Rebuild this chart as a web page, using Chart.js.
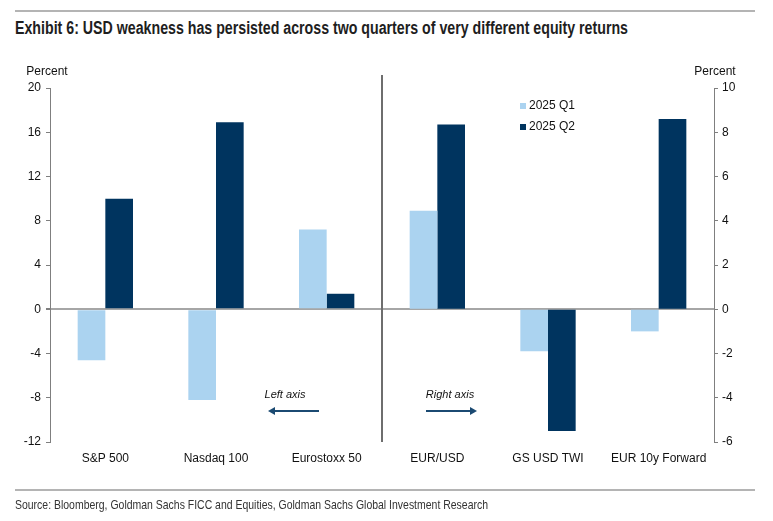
<!DOCTYPE html>
<html>
<head>
<meta charset="utf-8">
<script src="https://cdn.jsdelivr.net/npm/chart.js@4.4.1/dist/chart.umd.min.js"></script>
<style>
  body { margin: 0; background: #fff; }
  #wrap { position: relative; width: 773px; height: 521px; overflow: hidden; }
  #chart { position: absolute; left: 0; top: 0; }
  .rule { position: absolute; left: 15px; width: 740px; height: 2px; background: #b4b4b4; }
  .squeeze { position: absolute; left: 15px; white-space: nowrap; transform-origin: 0 0; }
  #title { top: 18px; font: bold 18px "Liberation Sans", Arial, sans-serif; color: #1e1e1e; }
  #source { top: 497px; font: 13px "Liberation Sans", Arial, sans-serif; color: #333; }
</style>
</head>
<body>
<div id="wrap">
  <div class="rule" style="top:10px"></div>
  <div id="title" class="squeeze" data-w="613">Exhibit 6: USD weakness has persisted across two quarters of very different equity returns</div>
  <canvas id="chart" width="773" height="521"></canvas>
  <div class="rule" style="top:489px"></div>
  <div id="source" class="squeeze" data-w="473">Source: Bloomberg, Goldman Sachs FICC and Equities, Goldman Sachs Global Investment Research</div>
</div>
<script>
// categories and values (left axis: equities, right axis: FX / rates)
const categories = ["S&P 500", "Nasdaq 100", "Eurostoxx 50", "EUR/USD", "GS USD TWI", "EUR 10y Forward"];
const q1Left = [-4.6, -8.2, 7.2];
const q2Left = [10.0, 16.9, 1.4];
const q1Right = [4.45, -1.9, -1.0];
const q2Right = [8.35, -5.5, 8.6];
const seriesNames = ["2025 Q1", "2025 Q2"];

const leftTicks = { min: -12, max: 20, step: 4 };
const rightTicks = { min: -6, max: 10, step: 2 };

const lightBlue = "#abd3f0";
const navy = "#00345f";
const axisGrey = "#7f7f7f";
const font = "Liberation Sans, Arial, sans-serif";

const pad = [null, null, null];

// condensed look for title / source: squeeze text to the reference width
document.querySelectorAll(".squeeze").forEach(el => {
  const target = Number(el.dataset.w);
  const k = target / el.getBoundingClientRect().width;
  el.style.transform = "scaleX(" + k + ")";
});

// =======================
// Extra drawing: divider, legend, axis notes
// =======================
const extras = {
  id: "extras",
  afterDraw(chart) {
    const ctx = chart.ctx;
    const area = chart.chartArea;
    const x = chart.scales.x;
    ctx.save();

    // divider between left and right axis groups
    const divX = (x.getPixelForValue(2) + x.getPixelForValue(3)) / 2;
    ctx.strokeStyle = "#6e6e6e";
    ctx.lineWidth = 2;
    ctx.beginPath();
    ctx.moveTo(divX, area.top - 13);
    ctx.lineTo(divX, area.bottom);
    ctx.stroke();

    // "Percent" titles
    ctx.fillStyle = "#111";
    ctx.font = "12px " + font;
    ctx.textBaseline = "middle";
    ctx.textAlign = "center";
    ctx.fillText("Percent", area.left - 3, area.top - 16);
    ctx.fillText("Percent", area.right + 1, area.top - 16);

    // legend
    const colors = [lightBlue, navy];
    seriesNames.forEach((name, i) => {
      const ly = 106 + i * 21;
      ctx.fillStyle = colors[i];
      ctx.fillRect(520, ly - 3, 6, 6);
      ctx.fillStyle = "#111";
      ctx.textAlign = "left";
      ctx.fillText(name, 529, ly);
    });

    // axis notes with arrows
    ctx.font = "italic 11px " + font;
    ctx.textAlign = "center";
    ctx.fillStyle = "#111";
    ctx.fillText("Left axis", 285, 395);
    ctx.fillText("Right axis", 450, 395);

    const arrow = (x1, x2, y) => {
      const dir = Math.sign(x2 - x1);
      ctx.strokeStyle = "#1b4a72";
      ctx.fillStyle = "#1b4a72";
      ctx.lineWidth = 2;
      ctx.beginPath();
      ctx.moveTo(x1, y);
      ctx.lineTo(x2 - dir * 5, y);
      ctx.stroke();
      ctx.beginPath();
      ctx.moveTo(x2, y);
      ctx.lineTo(x2 - dir * 7, y - 4);
      ctx.lineTo(x2 - dir * 7, y + 4);
      ctx.closePath();
      ctx.fill();
    };
    arrow(319, 268, 411);
    arrow(426, 477, 411);

    ctx.restore();
  }
};

const barCommon = { categoryPercentage: 0.5, barPercentage: 1.0, skipNull: true, borderWidth: 0 };

new Chart(document.getElementById("chart"), {
  type: "bar",
  data: {
    labels: categories,
    datasets: [
      { ...barCommon, label: seriesNames[0], data: q1Left.concat(pad), backgroundColor: lightBlue, yAxisID: "yL" },
      { ...barCommon, label: seriesNames[1], data: q2Left.concat(pad), backgroundColor: navy, yAxisID: "yL" },
      { ...barCommon, label: seriesNames[0], data: pad.concat(q1Right), backgroundColor: lightBlue, yAxisID: "yR" },
      { ...barCommon, label: seriesNames[1], data: pad.concat(q2Right), backgroundColor: navy, yAxisID: "yR" }
    ]
  },
  options: {
    responsive: false,
    animation: false,
    layout: { padding: { top: 88, left: 0, right: 0, bottom: 0 } },
    plugins: { legend: { display: false }, tooltip: { enabled: false } },
    scales: {
      x: {
        grid: { display: false },
        border: { display: false },
        ticks: { color: "#111", font: { family: font, size: 12 }, padding: 1, maxRotation: 0, autoSkip: false },
        afterFit: s => { s.height = 79; }
      },
      yL: {
        position: "left",
        min: leftTicks.min, max: leftTicks.max,
        ticks: { stepSize: leftTicks.step, color: "#111", font: { family: font, size: 12 }, padding: 5 },
        border: { color: axisGrey, width: 1 },
        grid: {
          drawOnChartArea: true,
          color: c => (c.tick && c.tick.value === 0 ? "#a6a6a6" : "rgba(0,0,0,0)"),
          lineWidth: c => (c.tick && c.tick.value === 0 ? 2 : 1),
          tickColor: axisGrey,
          tickLength: 4
        },
        afterFit: s => { s.width = 50; }
      },
      yR: {
        position: "right",
        min: rightTicks.min, max: rightTicks.max,
        ticks: { stepSize: rightTicks.step, color: "#111", font: { family: font, size: 12 }, padding: 4 },
        border: { color: axisGrey, width: 1 },
        grid: { drawOnChartArea: false, tickColor: axisGrey, tickLength: 4 },
        afterFit: s => { s.width = 59; }
      }
    }
  },
  plugins: [extras]
});
</script>
</body>
</html>
